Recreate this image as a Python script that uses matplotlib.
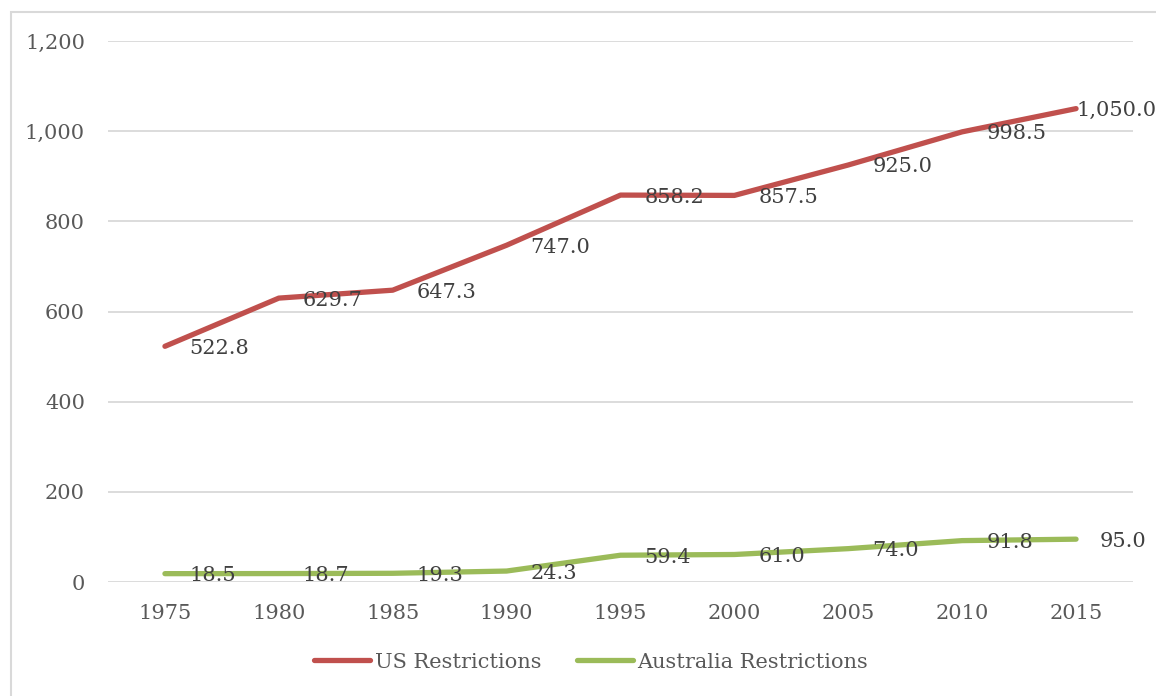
import numpy as np
import matplotlib
matplotlib.use("Agg")
import matplotlib.pyplot as plt
from matplotlib.patches import Rectangle

years = ["1975", "1980", "1985", "1990", "1995", "2000", "2005", "2010", "2015"]
us_restrictions = [522.8, 629.7, 647.3, 747.0, 858.2, 857.5, 925.0, 998.5, 1050.0]
au_restrictions = [18.5, 18.7, 19.3, 24.3, 59.4, 61.0, 74.0, 91.8, 95.0]
y_ticks = [0, 200, 400, 600, 800, 1000, 1200]

plt.rcParams["font.family"] = ["DejaVu Serif"]

W, H, DPI = 1156, 696, 100
PX = 72 / DPI  # points per pixel
fig = plt.figure(figsize=(W / DPI, H / DPI), dpi=DPI)
fig.patch.set_facecolor("white")

# outer chart frame (runs off the right and bottom edges)
fig.patches.append(Rectangle((10.5 / W, -0.1), 1.2, 1.1 - 11.5 / H,
                             transform=fig.transFigure, fill=False,
                             edgecolor="#d9d9d9", linewidth=1.5))

ax = fig.add_axes([108 / W, 1 - 582 / H, (1133 - 108) / W, (582 - 41) / H])
x = np.arange(len(years))

red = "#c0504d"
green = "#9bbb59"
ax.plot(x, us_restrictions, color=red, lw=3.8, solid_capstyle="round",
        solid_joinstyle="round", label="US Restrictions", zorder=3)
ax.plot(x, au_restrictions, color=green, lw=3.8, solid_capstyle="round",
        solid_joinstyle="round", label="Australia Restrictions", zorder=3)

ax.set_xlim(-0.5, len(years) - 0.5)
ax.set_ylim(0, 1200)
ax.set_yticks(y_ticks)
ax.set_yticklabels([f"{v:,}" for v in y_ticks])
ax.set_xticks(x)
ax.set_xticklabels(years)
ax.tick_params(length=0, labelsize=15, colors="#595959")
ax.tick_params(axis="y", pad=23 * PX)
ax.tick_params(axis="x", pad=22 * PX)
for s in ax.spines.values():
    s.set_visible(False)
ax.grid(axis="y", color="#d9d9d9", lw=1.3)
ax.set_axisbelow(True)

# value labels sit just right of each point; the last US label is pulled in
def put_labels(vals, last_dx=24):
    for i, v in enumerate(vals):
        dx = last_dx if i == len(vals) - 1 else 24
        ax.annotate(f"{v:,.1f}", (x[i], v), xytext=(dx * PX, -2 * PX),
                    textcoords="offset points", ha="left", va="center",
                    fontsize=15, color="#404040", zorder=4, annotation_clip=False)

put_labels(us_restrictions, last_dx=0)
put_labels(au_restrictions)

leg = fig.legend(loc="center", bbox_to_anchor=(591 / W, 1 - 662 / H), ncol=2,
                 frameon=False, fontsize=15, handlelength=2.7, handletextpad=0.2,
                 columnspacing=1.7)
for t in leg.get_texts():
    t.set_color("#595959")

fig.savefig("out.png", dpi=DPI)
